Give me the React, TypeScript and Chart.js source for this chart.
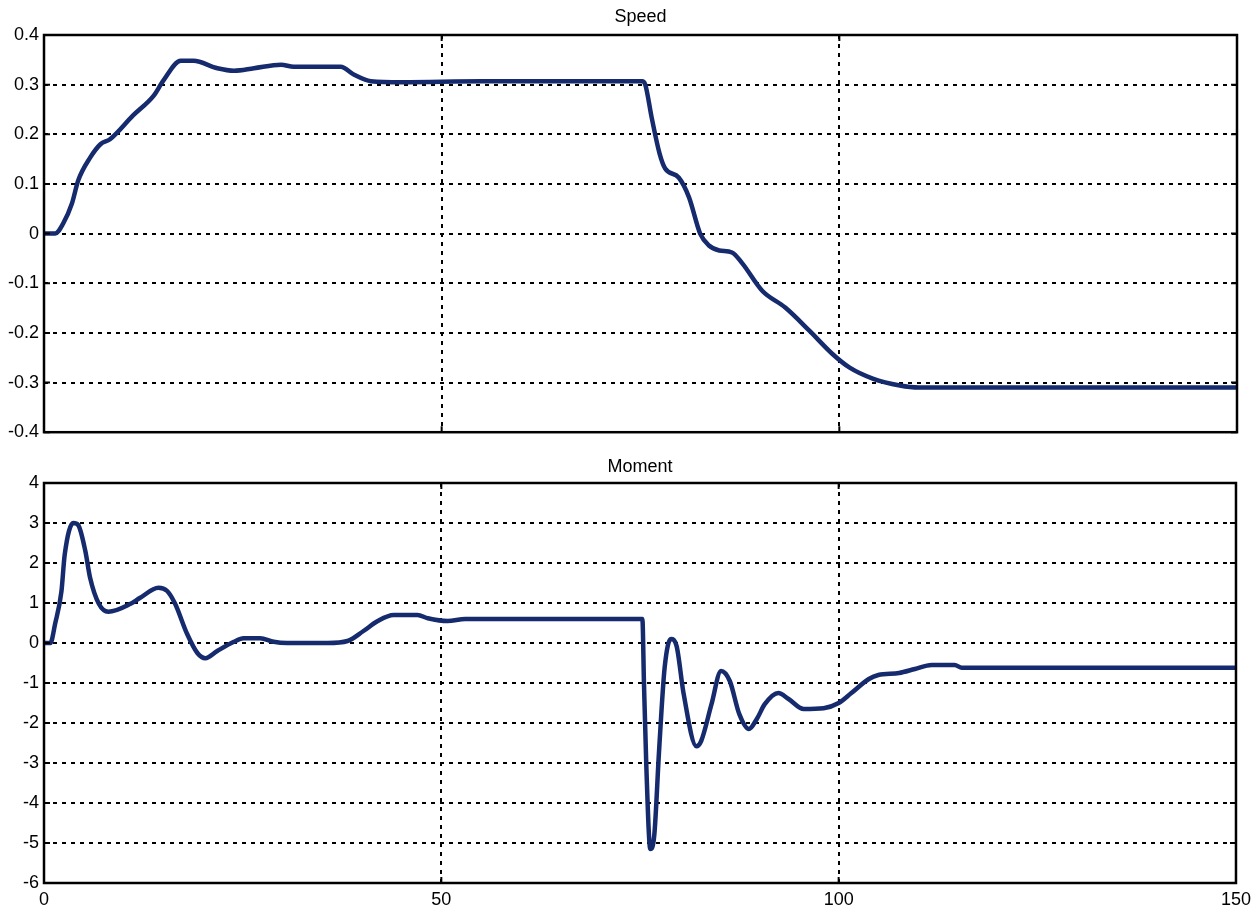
import React, { useEffect, useRef } from "react";
import { Chart, registerables } from "chart.js";

Chart.register(...registerables);

// ---- Data ----
const speedTime = [0, 1.4, 2.4, 3.5, 4.3, 5.8, 7.1, 8.3, 11.2, 13.8, 15, 17.2, 18.8, 21.8, 23.9, 26.4, 29.8, 31.4, 37.3, 39, 41.1, 45, 55, 65, 75.2, 75.6, 76.4, 77.4, 78.1, 79.8, 81.1, 82.5, 83.6, 84.9, 86.5, 87.8, 90.3, 93.2, 96.2, 99.1, 101.3, 104.2, 107.6, 110, 120, 135, 150];
const speedValues = [0, 0, 0.02, 0.06, 0.107, 0.153, 0.18, 0.19, 0.238, 0.278, 0.308, 0.348, 0.348, 0.333, 0.328, 0.333, 0.34, 0.336, 0.336, 0.32, 0.307, 0.305, 0.307, 0.307, 0.307, 0.3, 0.234, 0.161, 0.131, 0.113, 0.073, 0, -0.024, -0.034, -0.038, -0.06, -0.115, -0.149, -0.195, -0.242, -0.27, -0.292, -0.306, -0.31, -0.31, -0.31, -0.31];

const momentTime = [0, 0.8, 1.4, 2.2, 2.6, 3.7, 4.3, 5.2, 5.8, 6.9, 8.1, 10.9, 12.1, 14.4, 15.5, 16.5, 18, 19.3, 20.3, 21.8, 23.9, 25.1, 27.2, 28.9, 30.6, 35.7, 38.2, 40.2, 42, 44, 47, 48.3, 50.8, 53, 60, 68, 75.3, 75.5, 75.8, 76.3, 76.8, 77.4, 78.1, 78.9, 79.6, 80.5, 82.1, 82.7, 84, 85.2, 86.3, 87.5, 88.7, 89.7, 90.7, 92.4, 93.7, 95.6, 98.1, 100, 101.6, 103.8, 105, 107.6, 109.6, 111.7, 114.6, 115.5, 125, 140, 150];
const momentValues = [0, 0, 0.48, 1.3, 2.2, 3.0, 2.95, 2.3, 1.63, 0.98, 0.78, 0.98, 1.13, 1.38, 1.3, 0.98, 0.23, -0.25, -0.38, -0.2, 0.03, 0.12, 0.12, 0.03, 0, 0, 0.05, 0.3, 0.55, 0.7, 0.7, 0.62, 0.55, 0.6, 0.6, 0.6, 0.6, -1.0, -3.1, -5.15, -4.8, -2.7, -0.62, 0.1, -0.07, -1.28, -2.58, -2.45, -1.53, -0.7, -0.95, -1.78, -2.15, -1.9, -1.53, -1.25, -1.4, -1.65, -1.63, -1.5, -1.25, -0.9, -0.8, -0.75, -0.65, -0.55, -0.55, -0.62, -0.62, -0.62, -0.62];

const speedTicks = [-0.4, -0.3, -0.2, -0.1, 0, 0.1, 0.2, 0.3, 0.4];
const momentTicks = [-6, -5, -4, -3, -2, -1, 0, 1, 2, 3, 4];
const timeTicks = [0, 50, 100, 150];

const LINE_COLOR = "rgb(22, 42, 110)";
const FONT = "'Liberation Sans', Arial, sans-serif";

function fmt(v: number): string {
  const r = Math.round(v * 1000) / 1000;
  return String(r);
}

type PanelCfg = {
  title: string;
  time: number[];
  values: number[];
  yTicks: number[];
  showX: boolean;
  width: number;
  height: number;
  padTop: number;
  padBottom: number;
  titleOffset: number;
};

function Panel(props: PanelCfg) {
  const ref = useRef<HTMLCanvasElement | null>(null);
  useEffect(() => {
    if (!ref.current) return;
    const { title, time, values, yTicks, showX, padTop, padBottom, titleOffset } = props;
    const yMin = yTicks[0];
    const yMax = yTicks[yTicks.length - 1];
    const frame = {
      id: "frameAndTitle",
      afterDraw(chart: any) {
        const { ctx, chartArea } = chart;
        const xs = chart.scales.x;
        const ys = chart.scales.y;
        ctx.save();
        ctx.strokeStyle = "#000";
        ctx.lineWidth = 2;
        const tl = 6;
        ctx.beginPath();
        yTicks.forEach((v) => {
          const py = ys.getPixelForValue(v);
          ctx.moveTo(chartArea.left, py);
          ctx.lineTo(chartArea.left + tl, py);
          ctx.moveTo(chartArea.right, py);
          ctx.lineTo(chartArea.right - tl, py);
        });
        timeTicks.forEach((v) => {
          const px = xs.getPixelForValue(v);
          ctx.moveTo(px, chartArea.top);
          ctx.lineTo(px, chartArea.top + tl);
          ctx.moveTo(px, chartArea.bottom);
          ctx.lineTo(px, chartArea.bottom - tl);
        });
        ctx.stroke();
        ctx.lineWidth = 2.5;
        ctx.strokeRect(chartArea.left, chartArea.top, chartArea.right - chartArea.left, chartArea.bottom - chartArea.top);
        ctx.fillStyle = "#000";
        ctx.font = `18px ${FONT}`;
        ctx.textAlign = "center";
        ctx.textBaseline = "middle";
        ctx.fillText(title, (chartArea.left + chartArea.right) / 2, chartArea.top - titleOffset);
        ctx.restore();
      },
    };
    const chart = new Chart(ref.current, {
      type: "line",
      data: {
        datasets: [
          {
            label: title,
            data: time.map((t, i) => ({ x: t, y: values[i] })),
            borderColor: LINE_COLOR,
            borderWidth: 4.5,
            pointRadius: 0,
            cubicInterpolationMode: "monotone",
            fill: false,
          },
        ],
      },
      options: {
        animation: false,
        responsive: false,
        layout: { padding: { top: padTop, bottom: padBottom, left: 0, right: 20 } },
        plugins: { legend: { display: false }, title: { display: false }, tooltip: { enabled: false } },
        scales: {
          x: {
            type: "linear",
            min: 0,
            max: 150,
            afterBuildTicks: (scale: any) => {
              scale.ticks = timeTicks.map((v) => ({ value: v }));
            },
            afterFit: (scale: any) => {
              scale.height = showX ? 24 : 0;
            },
            ticks: {
              display: showX,
              color: "#000",
              font: { family: FONT, size: 18 },
              padding: 6,
              maxRotation: 0,
              callback: (v: any) => fmt(Number(v)),
            },
            grid: { color: "#000", lineWidth: 2, drawTicks: false, tickLength: 0 },
            border: { display: false, dash: [4, 5] },
          },
          y: {
            type: "linear",
            min: yMin,
            max: yMax,
            afterBuildTicks: (scale: any) => {
              scale.ticks = yTicks.map((v) => ({ value: v }));
            },
            afterFit: (scale: any) => {
              scale.width = 44;
            },
            ticks: {
              color: "#000",
              font: { family: FONT, size: 18 },
              padding: 5,
              callback: (v: any) => fmt(Number(v)),
            },
            grid: { color: "#000", lineWidth: 2, drawTicks: false, tickLength: 0 },
            border: { display: false, dash: [4, 5] },
          },
        },
      },
      plugins: [frame],
    } as any);
    return () => chart.destroy();
  }, []);
  return <canvas ref={ref} width={props.width} height={props.height} style={{ display: "block" }} />;
}

export default function App() {
  return (
    <div style={{ position: "absolute", left: 0, top: 0, width: 1257, height: 907, background: "#fff" }}>
      <Panel
        title="Speed"
        time={speedTime}
        values={speedValues}
        yTicks={speedTicks}
        showX={false}
        width={1257}
        height={448}
        padTop={35}
        padBottom={13}
        titleOffset={18}
      />
      <Panel
        title="Moment"
        time={momentTime}
        values={momentValues}
        yTicks={momentTicks}
        showX={true}
        width={1257}
        height={459}
        padTop={35}
        padBottom={0}
        titleOffset={16}
      />
    </div>
  );
}
